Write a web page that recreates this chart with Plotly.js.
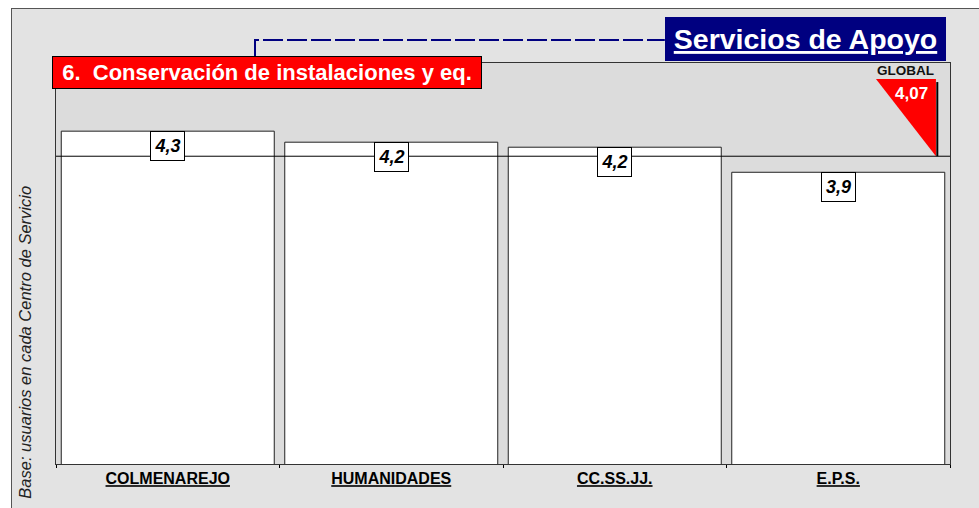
<!DOCTYPE html>
<html>
<head>
<meta charset="utf-8">
<script src="https://cdn.plot.ly/plotly-3.0.1.min.js"></script>
<style>
  html, body { margin: 0; padding: 0; background: #fff; overflow: hidden; }
  #frame { position: absolute; left: 11px; top: 8px; border-left: 1px solid #555; border-top: 1px solid #555; }
  #chart { width: 967px; height: 499px; }
</style>
</head>
<body>
<div id="frame"><div id="chart"></div></div>
<script>
// datos
const centros = ['COLMENAREJO', 'HUMANIDADES', 'CC.SS.JJ.', 'E.P.S.'];
const medias = [4.32, 4.21, 4.16, 3.91];
const etiquetas = ['4,3', '4,2', '4,2', '3,9'];
const globalMedia = 4.07;
const globalEtiqueta = '4,07';
const tituloArea = 'Servicios de Apoyo';
const tituloItem = '6.\u00a0 Conservación de instalaciones y eq.';
const nota = 'Base: usuarios en cada Centro de Servicio';

const FONT = 'Arial, "Liberation Sans", sans-serif';

const barras = {
  type: 'bar',
  x: centros,
  y: medias,
  width: 0.953,
  marker: { color: '#ffffff', line: { color: '#222', width: 1 } },
  hoverinfo: 'skip',
};

const annotations = centros.map((c, i) => ({
  x: c, y: medias[i], xref: 'x', yref: 'y',
  yanchor: 'top', xanchor: 'center',
  text: '<b><i>' + etiquetas[i] + '</i></b>',
  showarrow: false,
  bgcolor: '#ffffff', bordercolor: '#000', borderwidth: 1, borderpad: 0,
  width: 33, height: 28,
  font: { family: FONT, size: 18, color: '#000' },
}));

annotations.push(
  {
    xref: 'paper', yref: 'paper', x: -0.0045, y: 0.976, xanchor: 'left', yanchor: 'middle',
    text: '<b>' + tituloItem + '</b>', showarrow: false,
    bgcolor: '#ff0000', bordercolor: '#000', borderwidth: 1, borderpad: 2,
    width: 424, height: 27,
    font: { family: FONT, size: 22, color: '#fff' },
  },
  {
    xref: 'paper', yref: 'paper', x: 0.9955, y: 1.06, xanchor: 'right', yanchor: 'middle',
    text: '<b><u>' + tituloArea + '</u></b>', showarrow: false,
    bgcolor: '#000080', borderwidth: 0, borderpad: 5,
    width: 271, height: 34,
    font: { family: FONT, size: 28.5, color: '#fff' },
  },
  {
    xref: 'paper', yref: 'paper', x: 0.9497, y: 0.9825, xanchor: 'center', yanchor: 'middle',
    text: '<b>GLOBAL</b>', showarrow: false,
    font: { family: FONT, size: 13.5, color: '#111' },
  },
  {
    xref: 'paper', yref: 'paper', x: 0.9776, y: 0.925, xanchor: 'right', yanchor: 'middle',
    text: '<b>' + globalEtiqueta + '</b>', showarrow: false,
    font: { family: FONT, size: 17, color: '#fff' },
  },
  {
    xref: 'paper', yref: 'paper', x: -0.0347, y: 0.305, xanchor: 'center', yanchor: 'middle',
    textangle: -90, text: '<i>' + nota + '</i>', showarrow: false,
    font: { family: FONT, size: 16.5, color: '#222' },
  }
);

const triX0 = 0.9172, triX1 = 0.9843, triTop = globalMedia + 0.77;

const shapes = [
  {
    type: 'line', xref: 'paper', yref: 'y', x0: 0, x1: 1, y0: globalMedia, y1: globalMedia,
    line: { color: '#000', width: 1 }, layer: 'above',
  },
  {
    type: 'path', xref: 'paper', yref: 'y',
    path: `M ${triX0},${triTop} L ${triX1},${triTop} L ${triX1},${globalMedia} Z`,
    fillcolor: '#ff0000', line: { width: 0 }, layer: 'above',
  },
  {
    type: 'line', xref: 'paper', yref: 'y', x0: triX1 + 0.0015, x1: triX1 + 0.0015,
    y0: triTop - 0.03, y1: globalMedia, line: { color: '#000', width: 2 }, layer: 'above',
  },
  {
    type: 'path', xref: 'paper', yref: 'paper',
    path: 'M 0.2226,1.0175 L 0.2226,1.0574 L 0.681,1.0574',
    line: { color: '#000080', width: 2, dash: '20px,4px' }, layer: 'above',
  },
];

const layout = {
  width: 967, height: 499,
  margin: { l: 44, r: 29, t: 54, b: 44 },
  paper_bgcolor: '#e3e3e3',
  plot_bgcolor: '#dcdcdc',
  showlegend: false,
  font: { family: FONT },
  xaxis: {
    type: 'category',
    tickvals: centros,
    ticktext: centros.map(c => '<b><u>' + c + '</u></b>'),
    tickfont: { family: FONT, size: 16, color: '#000' },
    ticks: 'outside', ticklen: 3, tickcolor: '#000', tickson: 'boundaries',
    showline: true, linecolor: '#333', linewidth: 1, mirror: true,
    showgrid: false, zeroline: false, fixedrange: true,
  },
  yaxis: {
    range: [1, 5],
    showticklabels: false, ticks: '', showgrid: false, zeroline: false,
    showline: true, linecolor: '#333', linewidth: 1, mirror: true, fixedrange: true,
  },
  annotations: annotations,
  shapes: shapes,
};

Plotly.newPlot('chart', [barras], layout, { displayModeBar: false, staticPlot: true });
</script>
</body>
</html>
